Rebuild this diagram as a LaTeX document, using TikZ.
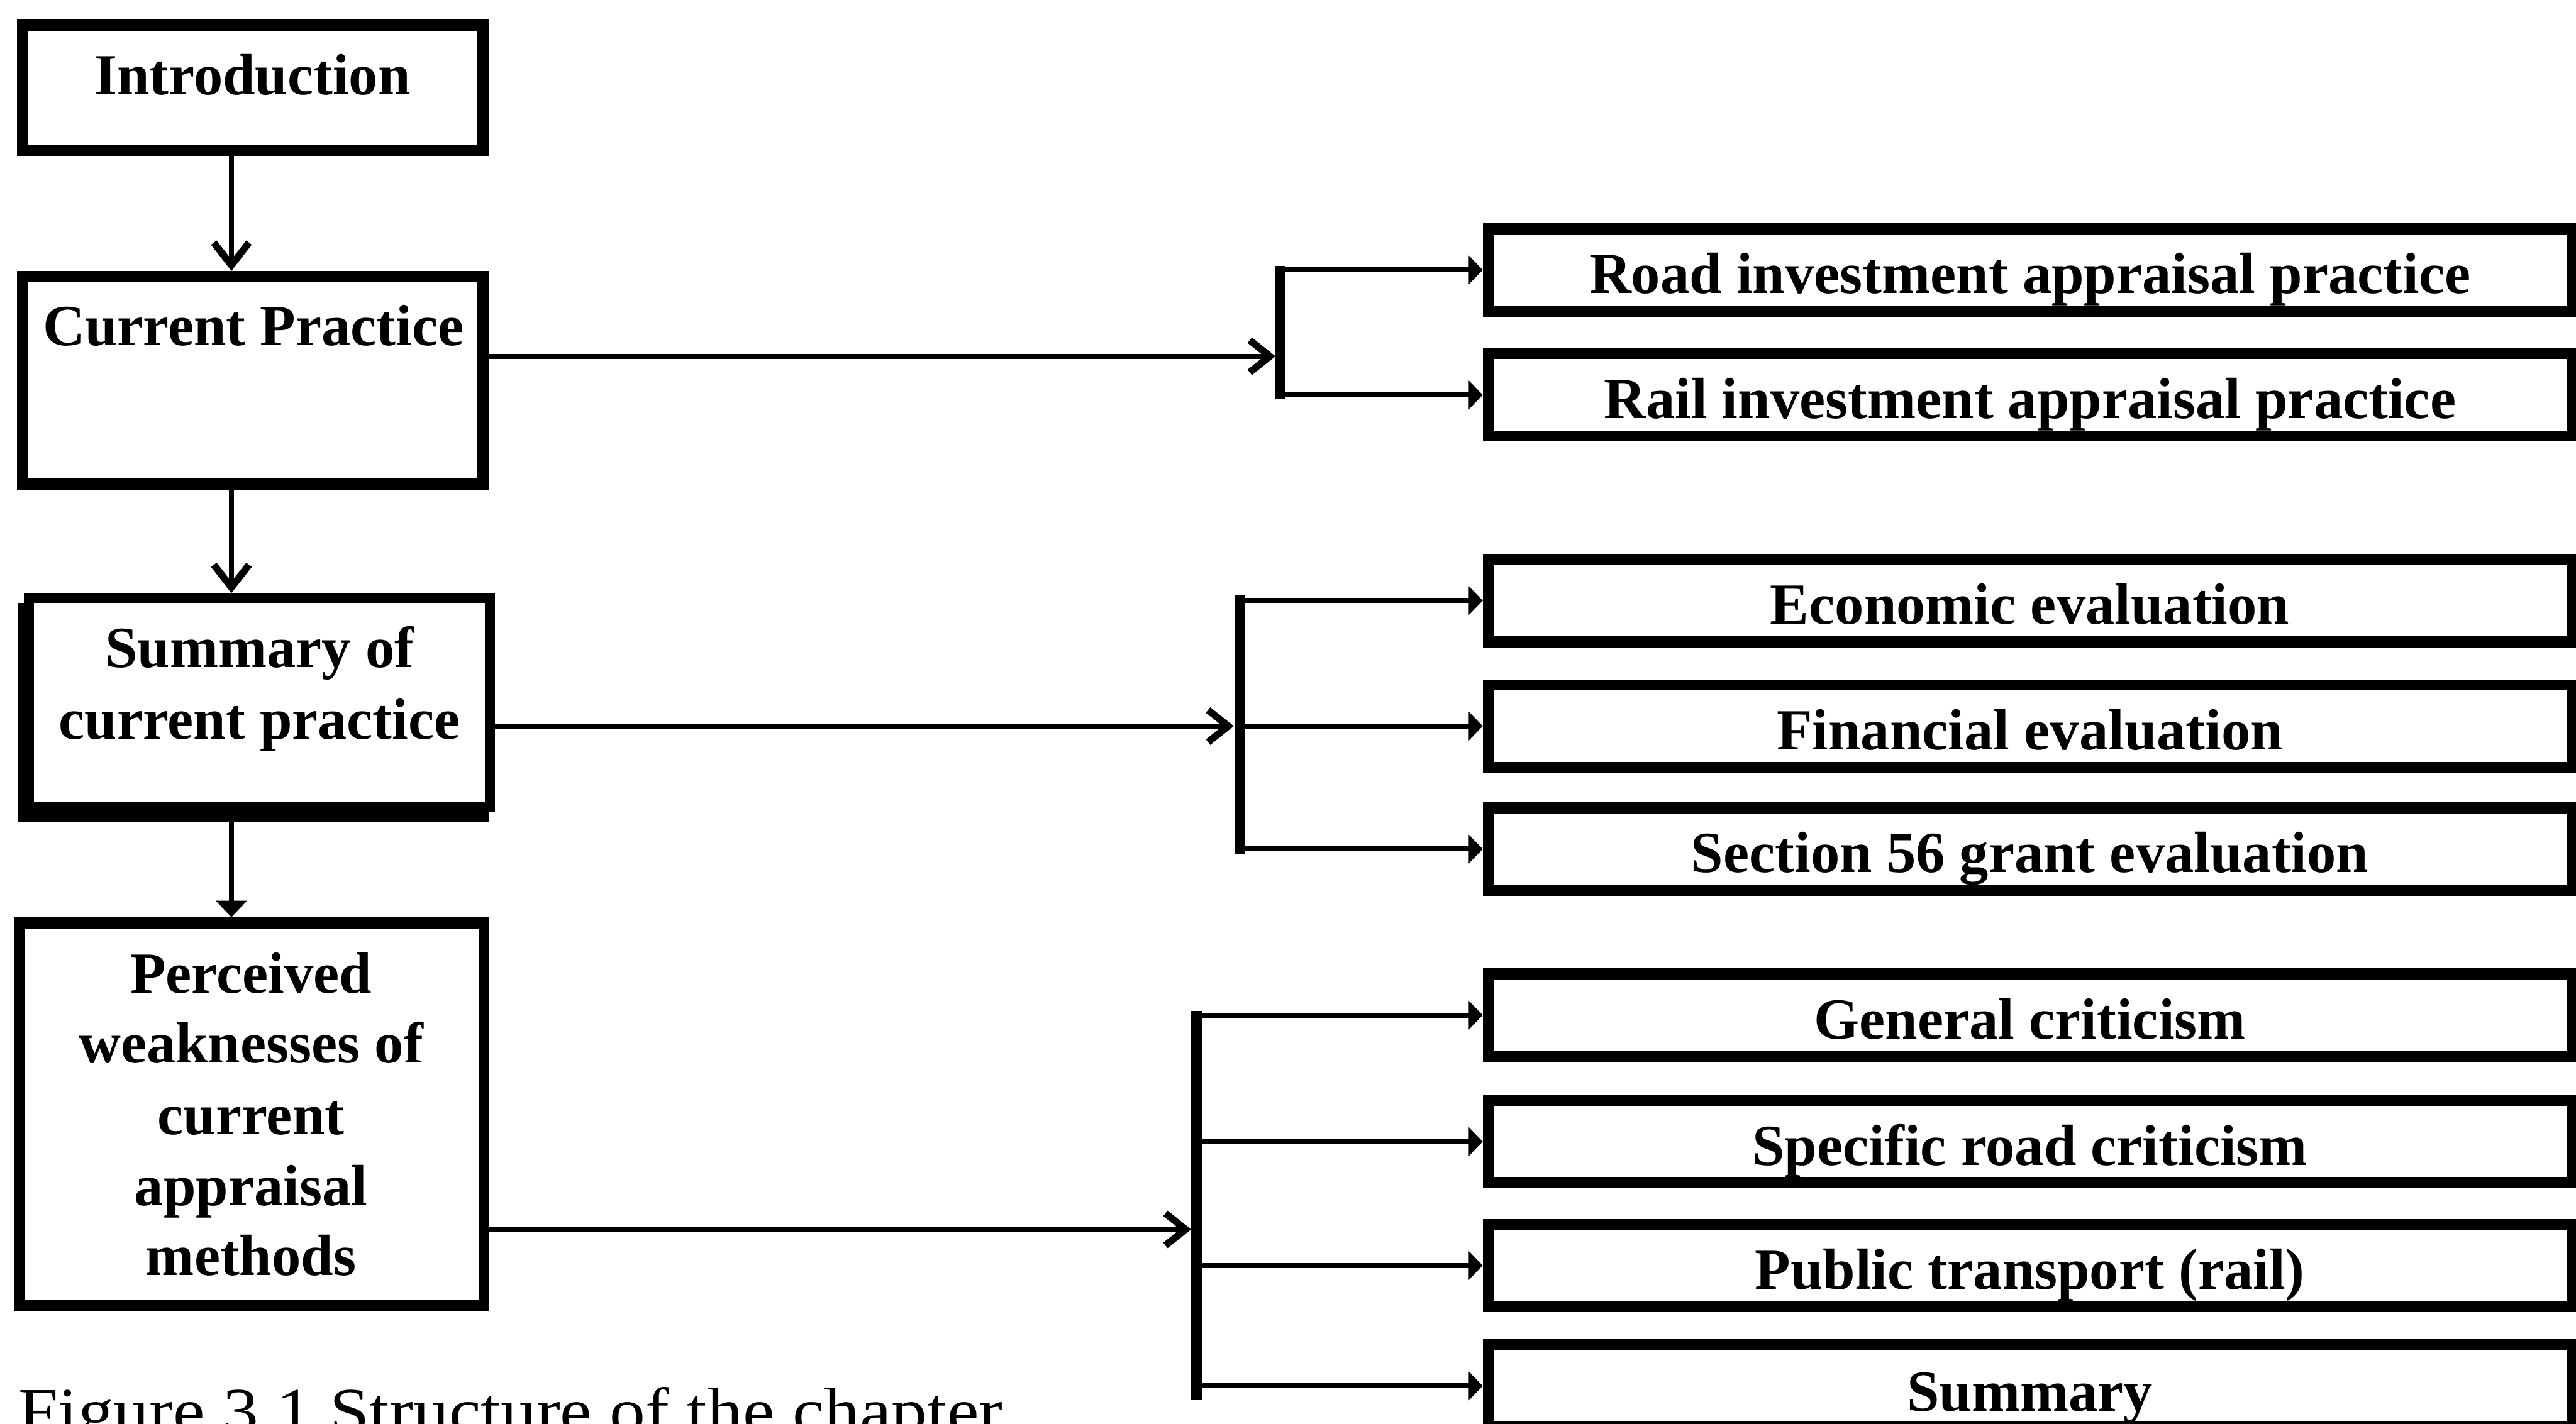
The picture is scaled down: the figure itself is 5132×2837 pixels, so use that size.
\documentclass[tikz,border=0pt]{standalone}
\usepackage{fontspec}
\setmainfont{Liberation Serif}
\newfontfamily\capfont[FakeStretch=1.095]{Liberation Serif}
\usetikzlibrary{arrows.meta}

\tikzset{
  box/.style={draw, rectangle, line width=2.2mm, inner sep=0pt, fill=white},
  lbox/.style={box, minimum width=91.7mm},
  rbox/.style={box, minimum width=215.9mm, minimum height=16.4mm},
  lbl/.style={anchor=base, inner sep=0pt, font=\bfseries\fontsize{33pt}{40pt}\selectfont},
  link/.style={line width=1mm},
  downlink/.style={link, -{Straight Barb[length=4.5mm, width=7mm, line width=1.4mm]}},
  downtri/.style={link, -{Triangle[length=3.3mm, width=6mm]}},
  inlink/.style={link, -{Straight Barb[length=4mm, width=6.4mm, line width=1.4mm]}},
  branch/.style={link, -{Triangle[length=2.8mm, width=5.6mm]}},
  bar/.style={line width=2.1mm}
}

\begin{document}
\begin{tikzpicture}[x=0.1mm, y=-0.1mm]
\useasboundingbox (0,0) rectangle (5132,2837);
\clip (0,0) rectangle (5132,2837);

% ---- left column of chapter sections ----
\node[lbox, minimum height=25mm] (intro) at (503.5,175) {};
\node[lbox, minimum height=41.4mm] (cp) at (503.5,758) {};
\node[box, fill=none, line width=2mm, minimum width=91.8mm, minimum height=41.7mm] (sumshadow) at (504,1419.5) {};
\node[box, line width=2mm, minimum width=91.8mm, minimum height=41.7mm] (sum) at (517,1400.5) {};
\node[box, minimum width=92.5mm, minimum height=76.3mm] (perc) at (501.5,2220.5) {};

\node[lbl] (intro-t) at (503,189) {Introduction};
\node[lbl] (cp-t) at (505,689) {Current Practice};
\node[lbl] (sum-t1) at (517,1330) {Summary of};
\node[lbl] (sum-t2) at (517,1473) {current practice};
\node[lbl] (perc-t1) at (500,1979) {Perceived};
\node[lbl] (perc-t2) at (500,2118) {weaknesses of};
\node[lbl] (perc-t3) at (500,2261) {current};
\node[lbl] (perc-t4) at (500,2403) {appraisal};
\node[lbl] (perc-t5) at (500,2542) {methods};

% ---- right column of sub-topics ----
\node[rbox] (road) at (4044.5,538) {};
\node[rbox] (rail) at (4044.5,787) {};
\node[rbox] (econ) at (4044.5,1197) {};
\node[rbox] (fin) at (4044.5,1447) {};
\node[rbox] (s56) at (4044.5,1692) {};
\node[rbox] (gen) at (4044.5,2023) {};
\node[rbox] (spec) at (4044.5,2275) {};
\node[rbox] (pub) at (4044.5,2522) {};
\node[rbox] (summ) at (4044.5,2762) {};

\node[lbl] (road-t) at (4044,585) {Road investment appraisal practice};
\node[lbl] (rail-t) at (4044,834) {Rail investment appraisal practice};
\node[lbl] (econ-t) at (4044,1244) {Economic evaluation};
\node[lbl] (fin-t) at (4044,1494) {Financial evaluation};
\node[lbl] (s56-t) at (4044,1739) {Section 56 grant evaluation};
\node[lbl] (gen-t) at (4044,2070) {General criticism};
\node[lbl] (spec-t) at (4044,2322) {Specific road criticism};
\node[lbl] (pub-t) at (4044,2569) {Public transport (rail)};
\node[lbl] (summ-t) at (4044,2812) {Summary};

% ---- vertical flow on the left ----
\coordinate (ax) at (461,0);
\draw[downlink] (intro.south -| ax) -- (cp.north -| ax);
\draw[downlink] (cp.south -| ax) -- (sum.north -| ax);
\draw[downtri] (sumshadow.south -| ax) -- (perc.north -| ax);

% ---- group 1: current practice ----
\coordinate (j1) at (2541,710);
\coordinate (b1t) at (2551,530);
\coordinate (b1b) at (2551,795);
\draw[inlink] (cp.east |- j1) -- (j1);
\draw[bar] (b1t) -- (b1b);
\draw[branch] (road.west -| b1t) -- (road.west);
\draw[branch] (rail.west -| b1t) -- (rail.west);

% ---- group 2: summary of current practice ----
\coordinate (j2) at (2458,1447);
\coordinate (b2t) at (2470,1187);
\coordinate (b2b) at (2470,1702);
\draw[inlink] (sum.east |- j2) -- (j2);
\draw[bar] (b2t) -- (b2b);
\draw[branch] (econ.west -| b2t) -- (econ.west);
\draw[branch] (fin.west -| b2t) -- (fin.west);
\draw[branch] (s56.west -| b2t) -- (s56.west);

% ---- group 3: perceived weaknesses ----
\coordinate (j3) at (2373,2450);
\coordinate (b3t) at (2384,2015);
\coordinate (b3b) at (2384,2790);
\draw[inlink] (perc.east |- j3) -- (j3);
\draw[bar] (b3t) -- (b3b);
\draw[branch] (gen.west -| b3t) -- (gen.west);
\draw[branch] (spec.west -| b3t) -- (spec.west);
\draw[branch] (pub.west -| b3t) -- (pub.west);
\draw[branch] (summ.west -| b3t) -- (summ.west);

% ---- caption ----
\node[anchor=base west, inner sep=0pt, font=\capfont\fontsize{37pt}{44pt}\selectfont] (caption) at (36,2856) {Figure 3.1 Structure of the chapter};
\end{tikzpicture}
\end{document}
